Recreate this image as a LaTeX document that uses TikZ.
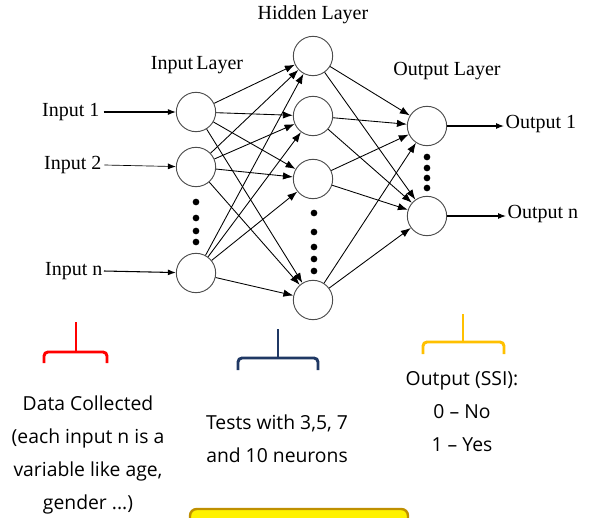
\documentclass[tikz,border=0pt]{standalone}
\usepackage{fontspec}
\setmainfont{Liberation Serif}
\newfontfamily\slidefont{Open Sans}
\usepackage{tikz}
\usetikzlibrary{arrows.meta, positioning, calc}
\definecolor{bracered}{RGB}{255, 0, 0}
\definecolor{bracenavy}{RGB}{31, 56, 100}
\definecolor{braceyellow}{RGB}{255, 192, 0}
\definecolor{boxgold}{RGB}{191, 144, 0}

\begin{document}
\begin{tikzpicture}[x=0.75pt, y=-0.75pt,
  neuron/.style={draw=black!70, circle, minimum size=29.5pt, inner sep=0pt, line width=0.7pt},
  netlabel/.style={font=\fontsize{15}{18}\selectfont, inner sep=1pt},
  link/.style={line width=0.65pt, -{Latex[length=7.5pt, width=5.5pt]}},
  iolink/.style={line width=0.8pt, -{Latex[length=6pt, width=4.5pt]}},
  brace/.style={line width=2.2pt, rounded corners=3pt},
  note/.style={font=\slidefont\fontsize{14.5}{24.75}\selectfont, align=center, inner sep=0pt}
]
  \clip (0, 0) rectangle (590, 518);

  % Layers
  \node[neuron] (in1) at (196, 112) {};
  \node[neuron] (in2) at (196, 167) {};
  \node[neuron] (inn) at (196, 273) {};

  \node[neuron] (hid1) at (313, 56) {};
  \node[neuron] (hid2) at (313, 116) {};
  \node[neuron] (hid3) at (313, 179) {};
  \node[neuron] (hid4) at (313, 300) {};

  \node[neuron] (out1) at (427, 126) {};
  \node[neuron] (outn) at (427, 216) {};

  % Layer titles
  \node[netlabel] (titlein) at (197, 65) {Input\,Layer};
  \node[netlabel] (titlehid) at (313, 15) {Hidden Layer};
  \node[netlabel] (titleout) at (447, 71) {Output Layer};

  % Dots
  \foreach \y in {202, 218, 231, 242}
    \fill (196, \y) circle (2.5pt);
  \foreach \y in {213, 232, 247, 259, 271}
    \fill (314, \y) circle (2.5pt);
  \foreach \y in {157, 168, 178, 188}
    \fill (427, \y) circle (2.5pt);

  % Inputs and outputs
  \node[netlabel, anchor=east] (lblin1) at (101, 112) {Input 1};
  \node[netlabel, anchor=east] (lblin2) at (103, 165) {Input 2};
  \node[netlabel, anchor=east] (lblinn) at (104, 271) {Input n};
  \node[netlabel, anchor=west] (lblout1) at (504, 124) {Output 1};
  \node[netlabel, anchor=west] (lbloutn) at (506, 214) {Output n};

  \draw[iolink] ([xshift=2pt]lblin1.east) -- (in1);
  \draw[iolink, line width=0.5pt] ([xshift=1pt]lblin2.east) -- (in2);
  \draw[iolink] (lblinn.east) -- (inn);
  \draw[iolink] (out1) -- (out1 -| lblout1.west);
  \draw[iolink] (outn) -- (outn -| lbloutn.west);

  % Connections
  \foreach \i in {in1, in2, inn}
    \foreach \h in {hid1, hid2, hid3, hid4}
      \draw[link] (\i) -- (\h);
  \foreach \h in {hid1, hid2, hid3, hid4}
    \foreach \o in {out1, outn}
      \draw[link] (\h) -- (\o);

  % Braces
  \draw[brace, bracered] (44, 363) -- (44, 352) -- (107, 352) -- (107, 363);
  \draw[brace, bracered] (76, 352) -- (76, 322);
  \draw[brace, bracenavy] (238, 370) -- (238, 358) -- (318, 358) -- (318, 370);
  \draw[brace, bracenavy] (278, 358) -- (278, 329);
  \draw[brace, braceyellow] (423, 354) -- (423, 342) -- (504, 342) -- (504, 354);
  \draw[brace, braceyellow] (463, 342) -- (463, 314);

  % Notes
  \node[note] (notedata) at (88, 455) {Data Collected\\(each input n is a\\variable like age,\\gender ...)};
  \node[note] (notehid) at (277, 438.5) {Tests with 3,5, 7\\and 10 neurons};
  \node[note] (noteout) at (462, 411.5) {Output (SSI):\\0 \textendash{} No\\1 \textendash{} Yes};

  % Box at the bottom
  \draw[draw=boxgold, fill=yellow, line width=1.8pt, rounded corners=5pt] (190, 509) rectangle (408, 540);
\end{tikzpicture}
\end{document}
